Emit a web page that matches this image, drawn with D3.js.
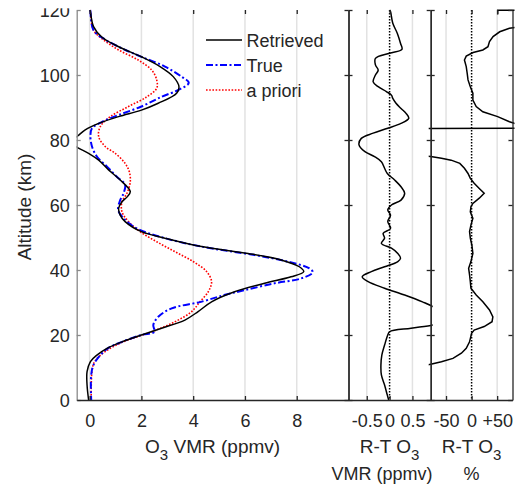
<!DOCTYPE html>
<html>
<head>
<meta charset="utf-8">
<script src="https://cdn.jsdelivr.net/npm/d3@7"></script>
<style>
  body { margin: 0; background: #fff; }
  svg text { font-family: "Liberation Sans", Arial, Helvetica, sans-serif; fill: #262626; }
</style>
</head>
<body>
<svg id="chart" width="518" height="489"></svg>
<script>
// ---- data: [altitude km, value] ----
var altTicks = [0, 20, 40, 60, 80, 100, 120];
var vmrTicks = [0, 2, 4, 6, 8];
var diffTicks = [-0.5, 0, 0.5];
var diffTickLabels = ["-0.5", "0", "0.5"];
var pctTicks = [-50, 0, 50];
var pctTickLabels = ["-50", "0", "+50"];

var retrieved = [[120,0.02],[119.5,0.03],[114.9,0.15],[111.6,0.48],[108.7,1.12],[105.6,2.0],[102.6,2.72],[99.5,3.23],
  [96.4,3.45],[94.4,3.36],[91.3,2.65],[89.2,2.0],[87.2,1.12],[85.1,0.35],[83.1,-0.17],[81.3,-0.45],[80.3,-0.6],
  [78.5,-0.6],[77.6,-0.45],[75.9,-0.04],[73.8,0.35],[70.8,0.73],[67.7,1.18],[64.1,1.57],[62.5,1.45],[61.0,1.25],
  [59.0,1.12],[56.9,1.18],[54.9,1.37],[51.8,2.0],[49.8,2.91],[47.2,4.32],[45.1,6.12],[43.1,7.4],[41.0,8.1],
  [39.5,8.27],[37.9,7.78],[35.9,6.76],[33.3,5.6],[30.2,4.71],[27.2,4.19],[24.6,3.68],[22.1,2.78],[20.0,2.0],
  [17.9,1.25],[15.9,0.67],[13.8,0.28],[11.8,0.03],[8.7,-0.1],[4.6,-0.1],[0,-0.04]];

var truth = [[120,0.02],[119.5,0.03],[113.8,0.15],[110.8,0.62],[107.7,1.38],[105.6,2.0],[102.6,2.91],[99.5,3.55],
  [97.6,3.83],[95.4,3.43],[93.3,2.78],[90.3,2.0],[87.7,1.12],[85.6,0.48],[83.6,0.09],[81.5,0.03],[78,0.09],
  [74.9,0.28],[71.8,0.67],[68.7,1.05],[66.2,1.37],[63.6,1.31],[61.5,1.18],[58.5,1.1],[55.9,1.31],[52.8,1.82],
  [49.8,2.91],[47.2,4.32],[44.6,6.37],[42.6,7.65],[40.5,8.49],[39.3,8.62],[37.4,8.17],[35.9,7.14],[33.8,5.99],
  [32.3,5.2],[30.2,4.3],[28.2,3.17],[25.6,2.65],[23.1,2.46],[21.0,2.5],[20.0,2.0],[17.9,1.25],[15.9,0.7],
  [13.8,0.41],[10.8,0.15],[7.7,0.06],[0,0.06]];

var apriori = [[120,0.02],[119.5,0.03],[113.8,0.15],[110.8,0.54],[107.7,1.12],[104.6,1.88],[101.5,2.4],[98.5,2.59],
  [95.9,2.59],[93.3,2.21],[90.3,1.5],[87.2,0.8],[84.1,0.41],[81,0.35],[78,0.6],[75.9,0.99],[72.8,1.37],[70.3,1.53],
  [67.2,1.57],[63.6,1.44],[61,1.25],[57.9,1.25],[54.9,1.5],[51.8,1.95],[48.7,2.59],[45.6,3.3],[42.6,4.0],[39.5,4.52],
  [36.4,4.71],[33.3,4.58],[30.2,4.26],[27.2,3.94],[24.1,3.3],[21,2.4],[17.9,1.3],[14.9,0.6],[11.8,0.19],[8.7,0.09],[0,0.06]];

var diffVmr = [[120,0.0],[119.5,0.02],[115.9,0.07],[112.8,0.17],[109.7,0.24],[107.9,0.27],[106.7,0],[105.1,-0.31],
  [103.1,-0.31],[101.5,-0.25],[100,-0.31],[97.9,-0.36],[96.4,-0.25],[94.9,-0.07],[93.8,0.04],[92.8,0.07],[91.3,0.14],
  [89.7,0.25],[88.2,0.36],[86.7,0.42],[85.1,0.25],[83.6,-0.04],[82.1,-0.36],[80.5,-0.62],[78.5,-0.67],[76.4,-0.54],
  [74.9,-0.33],[73.3,-0.18],[71.3,-0.11],[69.7,-0.05],[67.7,0.11],[65.6,0.25],[63.6,0.33],[61.5,0.25],[60,0.04],
  [58.5,-0.04],[56.9,0.02],[54.9,-0.04],[52.8,0.02],[51.3,-0.14],[49.8,-0.11],[48.2,-0.18],[46.7,0.04],[45.1,0.18],
  [43.6,0.24],[42.6,0.18],[41,-0.11],[39.5,-0.4],[37.9,-0.6],[36.4,-0.47],[34.4,-0.11],[32.3,0.33],[30.2,0.72],
  [28.7,0.95],[27,1.1],[24,1.1],[23.1,0.95],[22.1,0.47],[21,0.0],[20,-0.04],[16.9,-0.11],[13.8,-0.17],[10.8,-0.19],
  [7.7,-0.18],[4.6,-0.11],[1.5,-0.05],[0,-0.02]];

var diffPct = [[118.6,51],[119.9,51],[119.9,95],[114.8,95],[114.4,74],[113.3,55],[111.8,42],[110.3,35],[108.7,32],
  [107.7,22],[106.9,3],[105.8,-10.5],[104.6,-14],[102.6,-10.5],[100.5,-8.6],[98.5,-7],[96.4,-2.5],[94.4,2.5],
  [92.3,2.5],[90.3,9],[88.7,22],[87.2,51],[85.6,74],[84.6,95],[83.7,200],[83.5,-200],[75.2,-95],[74.9,-80],
  [74.4,-59],[73.8,-40],[72.8,-23],[71.3,-14],[69.7,-7],[68.2,-2.5],[66.7,5],[65.1,15],[63.6,24.6],[62.1,15],
  [60.5,2.5],[59.5,-1.3],[57.9,-2.5],[55.9,2.5],[53.8,-1.3],[51.8,-4],[49.8,-2.5],[47.7,0.5],[45.1,2.5],[42.6,-1.3],
  [40.5,-5.8],[38.5,-4],[36.4,-2.5],[34.4,-1.3],[32.3,9],[30.2,22],[27.7,35],[25.6,41.6],[24.1,40],[22.6,24.6],
  [21.5,5],[20.5,0],[17.9,-4],[15.9,-10.5],[14.4,-20],[12.8,-36.5],[11.8,-59],[11.0,-80],[10.5,-95],[0,-95]];

var legendItems = [
  { name: "Retrieved", color: "#000", dash: null, width: 1.5 },
  { name: "True", color: "#0000ff", dash: "7,2.5,2,2.5", width: 2 },
  { name: "a priori", color: "#ff0000", dash: "1.6,1.6", width: 1.6 }
];

(function () {
  // ---- layout ----
  var svg = d3.select("#chart");
  var yTop = 10, yBot = 400;
  var y = d3.scaleLinear().domain([0, 120]).range([yBot, yTop]);
  var axisColor = "#262626";

  var panels = [
    { id: "p0", x: d3.scaleLinear().domain([-0.5, 10]).range([76.7, 348.5]), grid: vmrTicks, labels: null, pad: 0 },
    { id: "p1", x: d3.scaleLinear().domain([-0.9, 0.9]).range([348.5, 430.7]), grid: diffTicks, labels: diffTickLabels, pad: 2 },
    { id: "p2", x: d3.scaleLinear().domain([-80, 80]).range([430.7, 512.5]), grid: pctTicks, labels: pctTickLabels, pad: 2 }
  ];

  var line = function (p) {
    return d3.line().x(function (d) { return p.x(d[1]); }).y(function (d) { return y(d[0]); })
      .curve(d3.curveCatmullRom.alpha(0.5));
  };

  var defs = svg.append("defs");

  panels.forEach(function (p) {
    var x0 = p.x.range()[0], x1 = p.x.range()[1];
    // grid lines
    svg.append("g").selectAll("line").data(p.grid.filter(function (d) { return p.id == "p0" || d != 0; }))
      .join("line")
      .attr("x1", function (d) { return p.x(d); }).attr("x2", function (d) { return p.x(d); })
      .attr("y1", yTop).attr("y2", yBot)
      .attr("stroke", "#e2e2e2").attr("stroke-width", 1.5);
    if (p.id != "p0") {
      svg.append("line").attr("x1", p.x(0)).attr("x2", p.x(0)).attr("y1", yTop).attr("y2", yBot)
        .attr("stroke", "#000").attr("stroke-width", 1.5).attr("stroke-dasharray", "1.5,1.5");
    }
    defs.append("clipPath").attr("id", "clip-" + p.id).append("rect")
      .attr("x", x0 - p.pad).attr("y", yTop - 1).attr("width", x1 - x0 + 2 * p.pad).attr("height", yBot - yTop + 2);
  });

  // curves
  var g0 = svg.append("g").attr("clip-path", "url(#clip-p0)");
  [[apriori, legendItems[2]], [truth, legendItems[1]], [retrieved, legendItems[0]]].forEach(function (s) {
    g0.append("path").datum(s[0]).attr("d", line(panels[0]))
      .attr("fill", "none").attr("stroke", s[1].color).attr("stroke-width", s[1].width)
      .attr("stroke-dasharray", s[1].dash);
  });
  svg.append("g").attr("clip-path", "url(#clip-p1)").append("path").datum(diffVmr)
    .attr("d", line(panels[1])).attr("fill", "none").attr("stroke", "#000").attr("stroke-width", 1.5);
  svg.append("g").attr("clip-path", "url(#clip-p2)").append("path").datum(diffPct)
    .attr("d", d3.line().x(function (d) { return panels[2].x(d[1]); }).y(function (d) { return y(d[0]); }))
    .attr("fill", "none").attr("stroke", "#000").attr("stroke-width", 1.5);

  // axes
  function styleAxis(g, color) {
    g.selectAll("path.domain").attr("stroke", color).attr("stroke-width", 1.3);
    g.selectAll(".tick line").attr("stroke", color).attr("stroke-width", 1.3);
    g.selectAll(".tick text").attr("font-size", 18).attr("fill", "#262626")
      .style("font-family", '"Liberation Sans", Arial, Helvetica, sans-serif');
  }

  panels.forEach(function (p, i) {
    var x0 = p.x.range()[0], x1 = p.x.range()[1];
    var left = d3.axisLeft(y).tickValues(altTicks).tickSize(-4).tickSizeOuter(0).tickPadding(7);
    if (i > 0) left.tickFormat("");
    var gl = svg.append("g").attr("transform", "translate(" + x0 + ",0)").call(left);
    styleAxis(gl, i == 0 ? "#8a8a8a" : axisColor);
    gl.selectAll(".tick text").attr("dy", "0.36em");

    var gr = svg.append("g").attr("transform", "translate(" + x1 + ",0)")
      .call(d3.axisRight(y).tickValues(altTicks).tickSize(-4).tickSizeOuter(0).tickFormat(""));
    styleAxis(gr, axisColor);

    var bx = d3.axisBottom(p.x).tickValues(p.grid).tickSize(-4).tickSizeOuter(0).tickPadding(14);
    if (p.labels) bx.tickFormat(function (d, k) { return p.labels[k]; });
    var gb = svg.append("g").attr("transform", "translate(0," + yBot + ")").call(bx);
    styleAxis(gb, axisColor);

    var gt = svg.append("g").attr("transform", "translate(0," + yTop + ")")
      .call(d3.axisTop(p.x).tickValues(p.grid).tickSize(-4).tickSizeOuter(0).tickFormat(""));
    styleAxis(gt, axisColor);
    gt.select("path.domain").remove();
  });

  // the source figure is cropped just above the top of the axes
  svg.append("rect").attr("x", 0).attr("y", 0).attr("width", 518).attr("height", 8.3).attr("fill", "#fff");

  // axis titles
  svg.append("text").attr("transform", "translate(31,207) rotate(-90)").attr("text-anchor", "middle")
    .attr("font-size", 19).text("Altitude (km)");

  function o3Label(cx, rest) {
    var t = svg.append("text").attr("x", cx).attr("y", 453).attr("text-anchor", "middle").attr("font-size", 19);
    t.append("tspan").text(rest[0]);
    t.append("tspan").attr("dy", 7).attr("font-size", 15).text("3");
    if (rest[1]) t.append("tspan").attr("dy", -7).text(rest[1]);
  }
  o3Label(212.6, ["O", " VMR (ppmv)"]);
  o3Label(389.6, ["R-T O", null]);
  o3Label(471.6, ["R-T O", null]);
  svg.append("text").attr("x", 382).attr("y", 480).attr("text-anchor", "middle").attr("font-size", 18).text("VMR (ppmv)");
  svg.append("text").attr("x", 471.6).attr("y", 480).attr("text-anchor", "middle").attr("font-size", 18).text("%");

  // legend
  var lg = svg.append("g").selectAll("g").data(legendItems).join("g")
    .attr("transform", function (d, i) { return "translate(206," + (40 + i * 25) + ")"; });
  lg.append("line").attr("x1", 0).attr("x2", 36).attr("y1", 0).attr("y2", 0)
    .attr("stroke", function (d) { return d.color; }).attr("stroke-width", function (d) { return d.width; })
    .attr("stroke-dasharray", function (d) { return d.dash; });
  lg.append("text").attr("x", 40.5).attr("y", 6.5).attr("font-size", 18).text(function (d) { return d.name; });
})();
</script>
</body>
</html>
